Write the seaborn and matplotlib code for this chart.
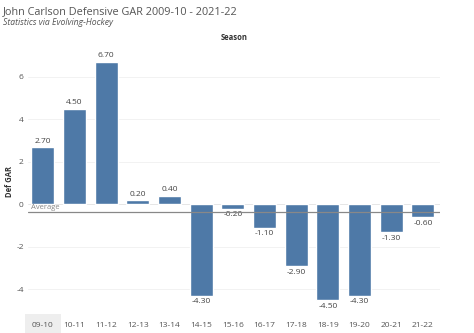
import matplotlib
matplotlib.use("Agg")
import matplotlib.pyplot as plt
import seaborn as sns
import pandas as pd
import numpy as np

seasons = ["09-10", "10-11", "11-12", "12-13", "13-14", "14-15", "15-16",
           "16-17", "17-18", "18-19", "19-20", "20-21", "21-22"]
def_gar = [2.7, 4.5, 6.7, 0.2, 0.4, -4.3, -0.2, -1.1, -2.9, -4.5, -4.3, -1.3, -0.6]
yticks = [-4, -2, 0, 2, 4, 6]

sns.set_theme(style="white")
plt.rcParams['font.family'] = ['Open Sans', 'DejaVu Sans']

df = pd.DataFrame({"Season": seasons, "Def GAR": def_gar})

fig = plt.figure(figsize=(4.74, 3.33), dpi=100)
ax = fig.add_axes([28/474, 1 - 315/333, (440-28)/474, (315-48)/333])

sns.barplot(data=df, x="Season", y="Def GAR", color="#4e79a7", saturation=1,
            width=0.73, ax=ax)

ax.set_xlim(-0.47, 12.54)
ax.set_ylim(-5.2, 7.36)
ax.set_yticks(yticks)
ax.set_yticklabels([str(t) for t in yticks], fontsize=6, color="#555555")
for t in yticks:
    if t != 0:
        ax.axhline(t, color="#f2f2f2", lw=0.7, zorder=0)
ax.axhline(0, color="#e6e6e6", lw=0.7, zorder=0)

for i, v in enumerate(def_gar):
    off = 0.12 if v >= 0 else -0.12
    ax.text(i, v + off, f"{v:.2f}", ha="center", va="bottom" if v >= 0 else "top",
            fontsize=6, color="#444444")

avg = np.mean(def_gar)
ax.axhline(avg, color="#888888", lw=0.9, zorder=3)
ax.text(-0.38, avg + 0.05, "Average", fontsize=5.5, color="#888888", va="bottom", ha="left")

ax.tick_params(axis="x", length=0, labelsize=6, colors="#555555", pad=5)
ax.tick_params(axis="y", length=0, pad=3)
for s in ax.spines.values():
    s.set_visible(False)

ax.set_xlabel("Season", fontsize=5.5, color="#333333", fontweight="bold")
ax.xaxis.set_label_position("top")
ax.xaxis.labelpad = 6
ax.set_ylabel("Def GAR", fontsize=5.5, color="#333333", fontweight="bold")
ax.yaxis.set_label_coords(-0.035, 0.5)

lbl = ax.get_xticklabels()[0]
lbl.set_bbox(dict(facecolor="#eeeeee", edgecolor="none", boxstyle="square,pad=0.9"))

fig.text(3/474, 1 - 14/333, "John Carlson Defensive GAR 2009-10 - 2021-22",
         fontsize=7.8, color="#555555", ha="left", va="baseline")
fig.text(3/474, 1 - 25/333, "Statistics via Evolving-Hockey",
         fontsize=6.2, color="#555555", style="italic", ha="left", va="baseline")

fig.savefig("out.png", dpi=100)
